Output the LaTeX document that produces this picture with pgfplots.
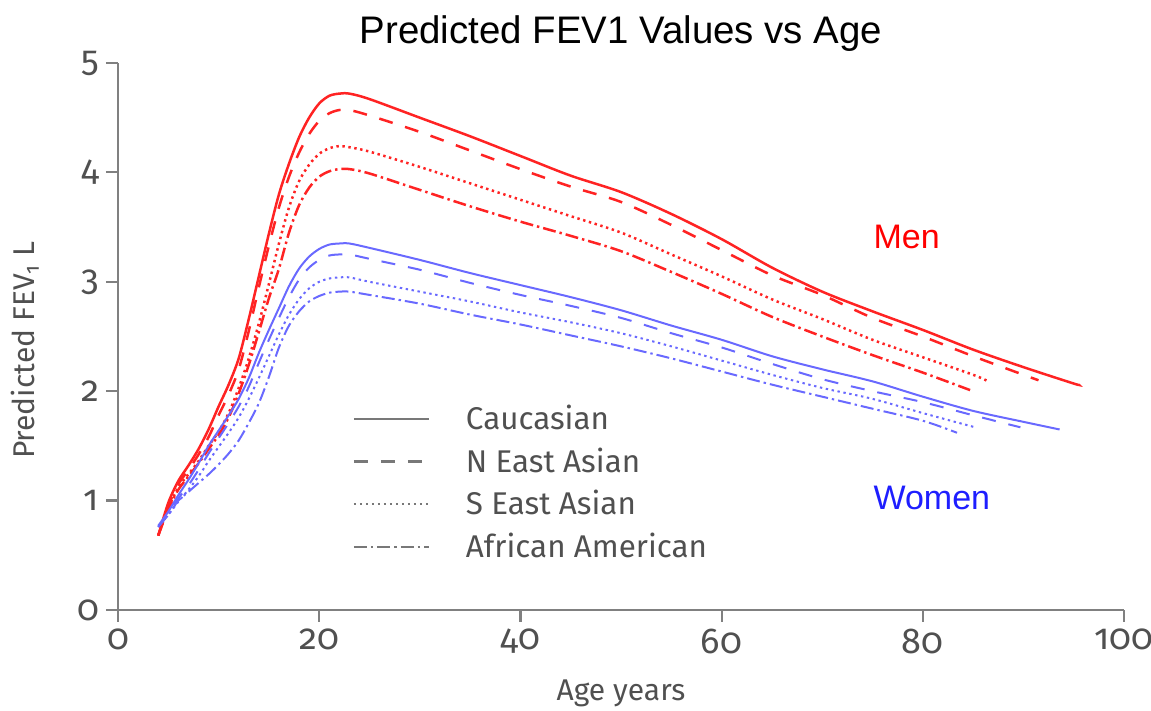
\documentclass[border=0pt]{standalone}
\usepackage{fontspec}
\setmainfont{Fira Sans}[Numbers=OldStyle]
\newfontfamily\titlefont{Liberation Sans}
\usepackage{pgfplots}
\pgfplotsset{compat=1.18}

\definecolor{menred}{RGB}{255,35,35}
\definecolor{womenblue}{RGB}{105,105,255}
\definecolor{axgray}{RGB}{128,128,128}
\definecolor{txtgray}{RGB}{80,80,80}
\definecolor{legendgray}{RGB}{120,120,120}
\definecolor{labelred}{RGB}{255,0,0}
\definecolor{labelblue}{RGB}{30,30,255}

\tikzset{
  caus/.style={solid},
  nea/.style={dash pattern=on 7pt off 6.5pt},
  sea/.style={dash pattern=on 1.2pt off 1.8pt},
  afam/.style={dash pattern=on 6.5pt off 2pt on 1.2pt off 2pt},
  men/.style={draw=menred, line width=1.25pt},
  women/.style={draw=womenblue, line width=1.0pt},
}

\begin{document}
\begin{tikzpicture}
\path[use as bounding box] (-59pt,-50.5pt) rectangle (516.5pt,305pt);
\begin{axis}[
  at={(0pt,0pt)}, anchor=south west,
  scale only axis, width=503pt, height=273.5pt,
  xmin=0, xmax=100, ymin=0, ymax=5,
  axis lines=left,
  axis line style={-, draw=axgray, line width=1.3pt},
  xtick={0,20,...,100}, ytick={0,1,...,5},
  tick align=outside, major tick length=6pt,
  tick style={draw=axgray, line width=1.1pt},
  /pgf/number format/assume math mode=true,
  ticklabel style={font=\fontsize{18}{20}\selectfont, text=txtgray},
  xlabel={Age years},
  ylabel={Predicted FEV\textsubscript{1} L},
  label style={font=\fontsize{15}{17}\selectfont, text=txtgray},
  x label style={at={(axis description cs:0.5,-0.153)}, anchor=center},
  y label style={at={(axis description cs:-0.0925,0.475)}, anchor=center},
  title={Predicted FEV1 Values vs Age},
  title style={at={(axis description cs:0.5,1.031)}, anchor=center, yshift=0pt,
    font=\titlefont\fontsize{19.2}{21}\selectfont},
  legend image code/.code={\draw[#1, line width=1.1pt] (0pt,0pt) -- (37.5pt,0pt);},
  legend style={draw=none, fill=none, at={(axis cs:22.7,1.95)}, anchor=north west,
    font=\fontsize{15.7}{17}\selectfont, text=txtgray, row sep=3.6pt,
    /tikz/every even column/.append style={column sep=16pt},
    /tikz/every odd column/.append style={column sep=16pt}},
  legend cell align=left,
]
% Men
\addplot[men, caus, smooth, forget plot] coordinates {
 (4,0.68) (5,0.98) (6,1.18) (7,1.32) (8,1.47) (9,1.65) (10,1.86) (11,2.06)
 (12,2.30) (13,2.66) (14,3.05) (15,3.44) (16,3.80) (17,4.08) (18,4.32)
 (19,4.50) (20,4.63) (21,4.70) (22,4.72) (23,4.72) (25,4.67) (30,4.50)
 (35,4.33) (40,4.15) (45,3.97) (50,3.82) (55,3.62) (60,3.39) (65,3.13)
 (70,2.91) (75,2.73) (80,2.56) (85,2.38) (90,2.22) (95,2.07) (95.5,2.06)};
\addplot[men, nea, smooth, forget plot] coordinates {
 (4,0.68) (5,0.95) (6,1.15) (7,1.28) (8,1.42) (9,1.58) (10,1.78) (11,1.97)
 (12,2.20) (13,2.55) (14,2.95) (15,3.33) (16,3.68) (17,3.96) (18,4.18)
 (19,4.35) (20,4.47) (21,4.54) (22,4.57) (23,4.57) (25,4.52) (30,4.37)
 (35,4.20) (40,4.03) (45,3.87) (50,3.73) (55,3.52) (60,3.29) (65,3.06)
 (70,2.88) (75,2.67) (80,2.50) (85,2.32) (90,2.15) (91.5,2.10)};
\addplot[men, sea, smooth, forget plot] coordinates {
 (4,0.68) (5,0.93) (6,1.12) (7,1.24) (8,1.36) (9,1.50) (10,1.63) (11,1.80)
 (12,2.03) (13,2.30) (14,2.62) (15,2.98) (16,3.35) (17,3.68) (18,3.92)
 (19,4.07) (20,4.17) (21,4.22) (22,4.24) (23,4.23) (25,4.19) (30,4.05)
 (35,3.90) (40,3.75) (45,3.60) (50,3.45) (55,3.25) (60,3.05) (65,2.84)
 (70,2.66) (75,2.47) (80,2.31) (85,2.15) (86.5,2.09)};
\addplot[men, afam, smooth, forget plot] coordinates {
 (4,0.68) (5,0.92) (6,1.10) (7,1.22) (8,1.34) (9,1.47) (10,1.60) (11,1.76)
 (12,1.98) (13,2.24) (14,2.54) (15,2.85) (16,3.12) (17,3.45) (18,3.70)
 (19,3.86) (20,3.96) (21,4.01) (22,4.03) (23,4.03) (25,3.99) (30,3.84)
 (35,3.69) (40,3.55) (45,3.42) (50,3.28) (55,3.09) (60,2.89) (65,2.68)
 (70,2.50) (75,2.33) (80,2.17) (84.7,2.01)};
% Women
\addplot[women, caus, smooth, forget plot] coordinates {
 (4,0.77) (5,0.90) (6,1.05) (7,1.19) (8,1.34) (9,1.50) (10,1.64) (11,1.78)
 (12,1.93) (13,2.12) (14,2.35) (15,2.56) (16,2.76) (17,2.96) (18,3.12)
 (19,3.23) (20,3.30) (21,3.34) (22,3.35) (23,3.35) (25,3.31) (30,3.20)
 (35,3.08) (40,2.97) (45,2.86) (50,2.74) (55,2.60) (60,2.47) (65,2.32)
 (70,2.20) (75,2.09) (80,1.95) (85,1.82) (90,1.72) (93.6,1.65)};
\addplot[women, nea, smooth, forget plot] coordinates {
 (4,0.76) (5,0.88) (6,1.02) (7,1.14) (8,1.28) (9,1.43) (10,1.57) (11,1.71)
 (12,1.86) (13,2.04) (14,2.26) (15,2.47) (16,2.67) (17,2.86) (18,3.02)
 (19,3.13) (20,3.20) (21,3.24) (22,3.25) (23,3.25) (25,3.21) (30,3.11)
 (35,2.99) (40,2.88) (45,2.78) (50,2.67) (55,2.53) (60,2.40) (65,2.25)
 (70,2.11) (75,2.00) (80,1.90) (85,1.78) (89.7,1.67)};
\addplot[women, sea, smooth, forget plot] coordinates {
 (4,0.76) (5,0.87) (6,0.99) (7,1.10) (8,1.22) (9,1.36) (10,1.49) (11,1.62)
 (12,1.76) (13,1.93) (14,2.12) (15,2.32) (16,2.52) (17,2.70) (18,2.84)
 (19,2.94) (20,3.00) (21,3.03) (22,3.04) (23,3.04) (25,3.00) (30,2.91)
 (35,2.82) (40,2.72) (45,2.63) (50,2.53) (55,2.41) (60,2.28) (65,2.15)
 (70,2.03) (75,1.93) (80,1.80) (85.2,1.67)};
\addplot[women, afam, smooth, forget plot] coordinates {
 (4,0.76) (5,0.87) (6,1.00) (7,1.08) (8,1.16) (9,1.24) (10,1.33) (11,1.43)
 (12,1.55) (13,1.71) (14,1.89) (15,2.13) (16,2.40) (17,2.60) (18,2.73)
 (19,2.82) (20,2.87) (21,2.90) (22,2.91) (23,2.91) (25,2.88) (30,2.80)
 (35,2.70) (40,2.61) (45,2.51) (50,2.41) (55,2.30) (60,2.18) (65,2.06)
 (70,1.95) (75,1.84) (80,1.73) (83.4,1.62)};
% Legend keys in neutral grey
\addlegendimage{legendgray, caus}
\addlegendimage{legendgray, nea}
\addlegendimage{legendgray, sea}
\addlegendimage{legendgray, afam}
\legend{Caucasian, N East Asian, S East Asian, African American}
\node[text=labelred, font=\titlefont\fontsize{17}{19}\selectfont] at (axis cs:78.4,3.41) {Men};
\node[text=labelblue, font=\titlefont\fontsize{17}{19}\selectfont] at (axis cs:80.9,1.02) {Women};
\end{axis}
\end{tikzpicture}
\end{document}
